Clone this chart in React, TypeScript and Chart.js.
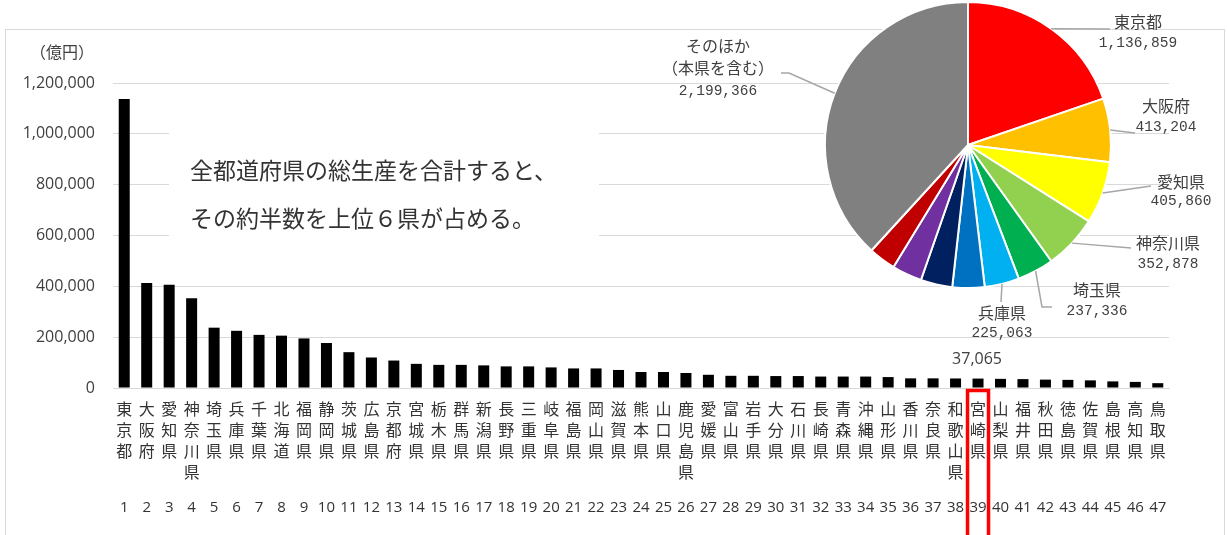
import React, { useEffect, useRef } from 'react';
import { Chart, registerables } from 'chart.js';

Chart.register(...registerables);

// ---------- data ----------
const PREFECTURES: string[] = [
  '東京都', '大阪府', '愛知県', '神奈川県', '埼玉県', '兵庫県', '千葉県', '北海道', '福岡県', '静岡県',
  '茨城県', '広島県', '京都府', '宮城県', '栃木県', '群馬県', '新潟県', '長野県', '三重県', '岐阜県',
  '福島県', '岡山県', '滋賀県', '熊本県', '山口県', '鹿児島県', '愛媛県', '富山県', '岩手県', '大分県',
  '石川県', '長崎県', '青森県', '沖縄県', '山形県', '香川県', '奈良県', '和歌山県', '宮崎県', '山梨県',
  '福井県', '秋田県', '徳島県', '佐賀県', '島根県', '高知県', '鳥取県',
];

// 県内総生産（億円）
const GDP: number[] = [
  1136859, 413204, 405860, 352878, 237336, 225063, 209000, 206000, 195000, 177000,
  141000, 120000, 108000, 95000, 91000, 91000, 89000, 85000, 85000, 81000,
  77000, 77000, 71000, 63000, 63000, 59000, 52000, 48000, 48000, 47000,
  47000, 45000, 45000, 45000, 43000, 38000, 38000, 37500, 37065, 36000,
  35000, 33000, 32000, 30000, 26000, 24000, 19000,
];

const RANKS: string[] = [
  '1', '2', '3', '4', '5', '6', '7', '8', '9', '10', '11', '12', '13', '14', '15', '16',
  '17', '18', '19', '20', '21', '22', '23', '24', '25', '26', '27', '28', '29', '30', '31',
  '32', '33', '34', '35', '36', '37', '38', '39', '40', '41', '42', '43', '44', '45', '46', '47',
];

const Y_MIN = 0;
const Y_MAX = 1200000;
const Y_STEP = 200000;

const HIGHLIGHT_INDEX = 38; // 宮崎県
const UNIT_LABEL = '（億円）';
const ANNOTATION_LINES = ['全都道府県の総生産を合計すると、', 'その約半数を上位６県が占める。'];

const OTHERS_TOTAL = 2199366;
const PIE_NAMES: string[] = [...PREFECTURES.slice(0, 10), 'そのほか'];
const PIE_VALUES: number[] = [...GDP.slice(0, 10), OTHERS_TOTAL];
const PIE_COLORS: string[] = [
  '#FF0000', '#FFC000', '#FFFF00', '#92D050', '#00B050', '#00B0F0',
  '#0070C0', '#002060', '#7030A0', '#C00000', '#808080',
];
const PIE_CALLOUT_NAMES: Record<number, string[]> = {
  0: ['東京都'],
  1: ['大阪府'],
  2: ['愛知県'],
  3: ['神奈川県'],
  4: ['埼玉県'],
  5: ['兵庫県'],
  10: ['そのほか', '（本県を含む）'],
};

// ---------- layout (positions only) ----------
const W = 1227;
const H = 535;
const PIE_LAYOUT = [
  { index: 0, cx: 1138, ys: [22, 43], path: [[1110, 29]] },
  { index: 1, cx: 1166, ys: [106, 127], path: [[1135, 133]] },
  { index: 2, cx: 1181, ys: [182, 201], path: [[1151, 186]] },
  { index: 3, cx: 1168, ys: [243, 264], path: [[1131, 248]] },
  { index: 4, cx: 1097, ys: [290, 311], path: [[1042, 307], [1052, 307]] },
  { index: 5, cx: 1002, ys: [313, 333], path: [[1001, 302]] },
  { index: 10, cx: 718, ys: [46, 68, 91], path: [[789, 73], [781, 73]] },
];

const fmt = (v: number) => v.toLocaleString('en-US');

const CJK = '"Noto Sans CJK JP", "Noto Sans", sans-serif';
const SANS = '"Open Sans", "Noto Sans", sans-serif';
const MONO = '"Liberation Mono", "DejaVu Sans Mono", monospace';

export default function App() {
  const barRef = useRef<HTMLCanvasElement | null>(null);
  const pieRef = useRef<HTMLCanvasElement | null>(null);

  useEffect(() => {
    if (!barRef.current || !pieRef.current) return;

    const decor = {
      id: 'decor',
      beforeDraw(chart: any) {
        const ctx = chart.ctx;
        ctx.save();
        ctx.fillStyle = '#ffffff';
        ctx.fillRect(0, 0, W, H);
        ctx.strokeStyle = '#d9d9d9';
        ctx.lineWidth = 1;
        ctx.strokeRect(5.5, 29.5, 1219, 560);
        ctx.restore();
      },
      afterDatasetsDraw(chart: any) {
        const ctx = chart.ctx;
        const xs = chart.scales.x;
        ctx.save();
        // unit label
        ctx.fillStyle = '#404040';
        ctx.font = `16px ${CJK}`;
        ctx.textAlign = 'center';
        ctx.textBaseline = 'middle';
        ctx.fillText(UNIT_LABEL, 62, 52);

        // annotation box
        ctx.fillStyle = '#ffffff';
        ctx.fillRect(169, 118, 430, 142);
        ctx.fillStyle = '#333333';
        ctx.font = `23px ${CJK}`;
        ctx.textAlign = 'left';
        ANNOTATION_LINES.forEach((t, i) => ctx.fillText(t, 190, 170 + i * 48));

        // value label on highlighted bar
        const bar = chart.getDatasetMeta(0).data[HIGHLIGHT_INDEX];
        ctx.fillStyle = '#404040';
        ctx.font = `16px ${SANS}`;
        ctx.textAlign = 'center';
        ctx.fillText(fmt(GDP[HIGHLIGHT_INDEX]), bar.x - 1, bar.y - 19);

        // red highlight rectangle
        const px = xs.getPixelForValue(HIGHLIGHT_INDEX);
        ctx.strokeStyle = '#ff0000';
        ctx.lineWidth = 3.5;
        ctx.strokeRect(px - 10.5, 390.5, 21, 200);
        ctx.restore();
      },
    };

    const bar = new Chart(barRef.current, {
      type: 'bar',
      data: {
        labels: PREFECTURES.map((n) => Array.from(n)),
        datasets: [
          {
            data: GDP,
            backgroundColor: '#000000',
            borderWidth: 0,
            barPercentage: 0.49,
            categoryPercentage: 1,
            xAxisID: 'x',
          },
        ],
      },
      options: {
        responsive: false,
        animation: false,
        events: [],
        layout: { padding: { left: 0, right: 58, top: 83, bottom: 11 } },
        plugins: { legend: { display: false }, tooltip: { enabled: false } },
        scales: {
          x: {
            type: 'category',
            position: 'bottom',
            weight: 0,
            offset: true,
            grid: { display: false, drawTicks: false },
            border: { display: true, color: '#d9d9d9', width: 1 },
            ticks: {
              autoSkip: false,
              maxRotation: 0,
              minRotation: 0,
              padding: 10,
              color: '#333333',
              font: { family: CJK, size: 16, lineHeight: '21px' },
            },
          },
          x2: {
            type: 'category',
            labels: RANKS,
            position: 'bottom',
            weight: 1,
            offset: true,
            grid: { display: false, drawTicks: false },
            border: { display: false },
            ticks: {
              autoSkip: false,
              maxRotation: 0,
              minRotation: 0,
              padding: 7,
              color: '#333333',
              font: { family: SANS, size: 15, lineHeight: 1.2 },
            },
          },
          y: {
            min: Y_MIN,
            max: Y_MAX,
            grid: { color: '#d9d9d9', lineWidth: 1, drawTicks: false },
            border: { display: false },
            ticks: {
              stepSize: Y_STEP,
              padding: 18,
              color: '#404040',
              font: { family: SANS, size: 16 },
              callback: (v: any) => fmt(Number(v)),
            },
            afterFit: (scale: any) => {
              scale.width = 113;
            },
          },
        },
      } as any,
      plugins: [decor],
    });

    const pieLabels = {
      id: 'pieLabels',
      afterDraw(chart: any) {
        const ctx = chart.ctx;
        const arcs = chart.getDatasetMeta(0).data;
        ctx.save();
        PIE_LAYOUT.forEach((L) => {
          const arc = arcs[L.index];
          const p = arc.getProps(['x', 'y', 'startAngle', 'endAngle', 'outerRadius'], true);
          const mid = (p.startAngle + p.endAngle) / 2;
          const sx = p.x + Math.cos(mid) * p.outerRadius;
          const sy = p.y + Math.sin(mid) * p.outerRadius;
          ctx.strokeStyle = '#a6a6a6';
          ctx.lineWidth = 1.5;
          ctx.beginPath();
          ctx.moveTo(sx, sy);
          L.path.forEach(([x, y]) => ctx.lineTo(x, y));
          ctx.stroke();

          const lines = [...PIE_CALLOUT_NAMES[L.index], fmt(PIE_VALUES[L.index])];
          ctx.fillStyle = '#404040';
          ctx.textAlign = 'center';
          ctx.textBaseline = 'middle';
          lines.forEach((t, i) => {
            const isValue = i === lines.length - 1;
            ctx.font = isValue ? `14.5px ${MONO}` : `16px ${CJK}`;
            ctx.fillText(t, L.cx, L.ys[i]);
          });
        });
        ctx.restore();
      },
    };

    const pie = new Chart(pieRef.current, {
      type: 'pie',
      data: {
        labels: PIE_NAMES,
        datasets: [
          {
            data: PIE_VALUES,
            backgroundColor: PIE_COLORS,
            borderColor: '#ffffff',
            borderWidth: 2,
          },
        ],
      },
      options: {
        responsive: false,
        animation: false,
        events: [],
        layout: { padding: { left: 824, right: 115, top: 1, bottom: 246 } },
        plugins: { legend: { display: false }, tooltip: { enabled: false } },
      } as any,
      plugins: [pieLabels],
    });

    return () => {
      bar.destroy();
      pie.destroy();
    };
  }, []);

  return (
    <div style={{ position: 'absolute', left: 0, top: 0, width: W, height: H, background: '#fff', overflow: 'hidden' }}>
      <canvas ref={barRef} width={W} height={H} style={{ position: 'absolute', left: 0, top: 0, width: W, height: H }} />
      <canvas ref={pieRef} width={W} height={H} style={{ position: 'absolute', left: 0, top: 0, width: W, height: H }} />
    </div>
  );
}
